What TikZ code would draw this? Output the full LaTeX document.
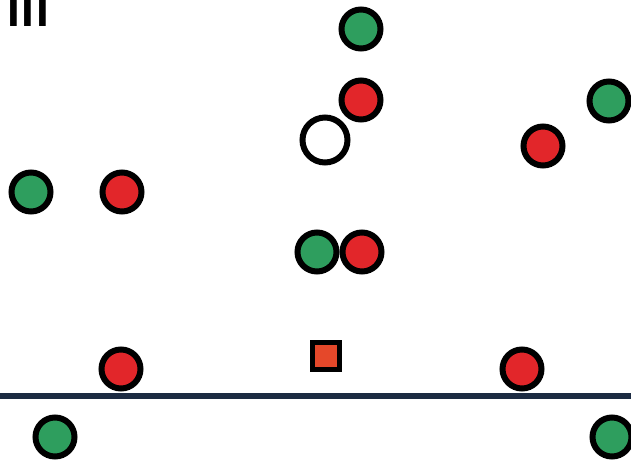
\documentclass[tikz,border=0pt]{standalone}
\usepackage{fontspec}
\setmainfont{Liberation Sans}
\begin{document}
\begin{tikzpicture}[x=1pt,y=-1pt,
  dot/.style={circle,draw=black,line width=6pt,minimum size=39pt,inner sep=0pt},
  gdot/.style={dot,fill=dotgreen},
  rdot/.style={dot,fill=dotred},
  wdot/.style={dot,fill=white,minimum size=45pt},
  sqbox/.style={rectangle,draw=black,line width=5pt,fill=sqred,minimum size=27pt,inner sep=0pt}]
\definecolor{dotgreen}{HTML}{2E9E5E}
\definecolor{dotred}{HTML}{E2262A}
\definecolor{sqred}{HTML}{E5482A}
\definecolor{linecol}{HTML}{1C2B42}
\fill[white] (0,0) rectangle (631,468);
\useasboundingbox (0,0) rectangle (631,468);
\clip (0,0) rectangle (631,468);
\node[anchor=base west,inner sep=0pt,font=\fontsize{46}{46}\selectfont\bfseries\addfontfeature{LetterSpace=3.7}] (num) at (7,27) {III};
% horizontal line
\coordinate (l1) at (0,396);
\coordinate (l2) at (631,396);
\draw[linecol,line width=6pt] (l1) -- (l2);
% circles
\node[gdot] (g1) at (361,29) {};
\node[rdot] (r1) at (361,100) {};
\node[wdot] (w1) at (325,140) {};
\node[gdot] (g2) at (609,101) {};
\node[rdot] (r2) at (543,146) {};
\node[gdot] (g3) at (31,192) {};
\node[rdot] (r3) at (122,192) {};
\node[gdot] (g4) at (317,252) {};
\node[rdot] (r4) at (362,252) {};
\node[sqbox] (s1) at (326,356) {};
\node[rdot] (r5) at (121,369) {};
\node[rdot] (r6) at (522,369) {};
\node[gdot] (g5) at (55,437) {};
\node[gdot] (g6) at (612,437) {};
\end{tikzpicture}
\end{document}
